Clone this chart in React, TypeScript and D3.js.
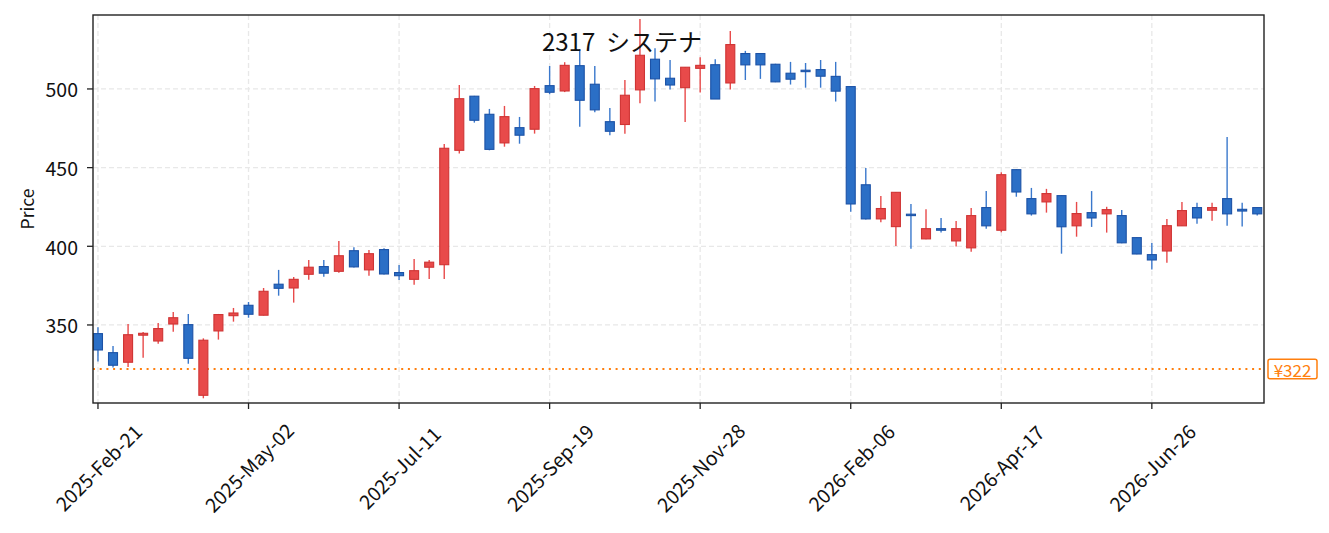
import React from 'react';
import * as d3 from 'd3';

// weekly bars, 2317 システナ
const dates = [
  '2025-02-21', '2025-02-28', '2025-03-07', '2025-03-14', '2025-03-21', '2025-03-28', '2025-04-04', '2025-04-11',
  '2025-04-18', '2025-04-25', '2025-05-02', '2025-05-09', '2025-05-16', '2025-05-23', '2025-05-30', '2025-06-06',
  '2025-06-13', '2025-06-20', '2025-06-27', '2025-07-04', '2025-07-11', '2025-07-18', '2025-07-25', '2025-08-01',
  '2025-08-08', '2025-08-15', '2025-08-22', '2025-08-29', '2025-09-05', '2025-09-12', '2025-09-19', '2025-09-26',
  '2025-10-03', '2025-10-10', '2025-10-17', '2025-10-24', '2025-10-31', '2025-11-07', '2025-11-14', '2025-11-21',
  '2025-11-28', '2025-12-05', '2025-12-12', '2025-12-19', '2025-12-26', '2026-01-02', '2026-01-09', '2026-01-16',
  '2026-01-23', '2026-01-30', '2026-02-06', '2026-02-13', '2026-02-20', '2026-02-27', '2026-03-06', '2026-03-13',
  '2026-03-20', '2026-03-27', '2026-04-03', '2026-04-10', '2026-04-17', '2026-04-24', '2026-05-01', '2026-05-08',
  '2026-05-15', '2026-05-22', '2026-05-29', '2026-06-05', '2026-06-12', '2026-06-19', '2026-06-26', '2026-07-03',
  '2026-07-10', '2026-07-17', '2026-07-24', '2026-07-31', '2026-08-07', '2026-08-14',
];

const opens = [
  344.5, 332.4, 326.3, 343.5, 339.8, 350.6, 350.2, 305.3, 346.2, 355.9, 362.5, 356.2, 375.9, 373.5, 382.2, 387.1,
  384.1, 397.2, 385.0, 397.9, 383.3, 379.0, 386.7, 388.3, 461.0, 495.4, 483.9, 465.7, 475.4, 474.4, 502.1, 498.7,
  514.8, 503.0, 479.2, 477.4, 499.4, 518.9, 506.8, 500.8, 513.1, 515.4, 503.8, 522.5, 522.5, 515.7, 510.0, 511.9,
  512.3, 508.0, 501.5, 439.1, 417.4, 412.5, 420.4, 404.7, 411.2, 403.4, 399.0, 424.6, 410.2, 448.7, 430.3, 428.2,
  432.2, 413.0, 421.4, 420.6, 419.5, 405.5, 394.7, 397.0, 413.0, 424.6, 422.9, 430.3, 423.5, 424.6,
];
const highs = [
  348.5, 336.7, 350.6, 345.5, 351.3, 358.3, 357.0, 341.5, 357.0, 360.8, 364.6, 373.5, 385.0, 380.5, 391.3, 391.3,
  403.4, 399.4, 397.7, 398.8, 388.1, 392.0, 391.3, 465.0, 502.5, 495.6, 487.3, 489.2, 482.2, 501.9, 514.6, 517.0,
  525.4, 514.6, 487.9, 505.7, 544.5, 525.9, 518.4, 514.0, 520.1, 518.9, 536.9, 524.2, 522.8, 516.0, 517.2, 516.5,
  518.4, 517.2, 501.5, 449.8, 432.0, 434.5, 426.9, 423.5, 418.0, 416.1, 424.4, 435.1, 447.0, 449.0, 437.1, 436.5,
  432.5, 428.2, 435.1, 425.1, 423.1, 405.6, 402.1, 417.4, 428.2, 427.6, 427.6, 469.5, 427.6, 424.6,
];
const lows = [
  326.7, 322.9, 323.3, 329.2, 338.1, 345.7, 325.4, 303.4, 340.7, 352.1, 354.6, 356.0, 368.6, 364.2, 378.8, 380.7,
  383.2, 386.5, 381.3, 382.0, 378.6, 375.6, 379.2, 379.2, 458.9, 478.6, 461.0, 463.3, 465.2, 471.6, 496.6, 498.0,
  476.0, 485.2, 470.6, 471.6, 490.9, 492.0, 499.6, 479.0, 497.7, 493.6, 499.6, 505.7, 506.4, 504.3, 502.8, 500.8,
  500.8, 492.0, 422.0, 417.0, 415.3, 400.2, 398.5, 404.5, 408.7, 399.8, 396.6, 411.2, 408.9, 431.5, 419.5, 421.4,
  395.3, 406.1, 412.3, 408.7, 402.0, 395.0, 385.2, 389.6, 413.0, 414.4, 416.3, 413.1, 412.5, 419.5,
];
const closes = [
  334.1, 324.4, 343.8, 344.7, 347.7, 354.6, 328.8, 340.3, 356.6, 357.6, 356.8, 371.4, 373.3, 379.0, 386.7, 382.9,
  394.0, 386.9, 395.3, 382.4, 381.3, 384.5, 389.9, 462.3, 493.8, 480.1, 461.6, 482.4, 470.6, 500.2, 497.9, 515.0,
  492.8, 486.7, 473.1, 496.0, 521.4, 506.4, 502.5, 513.8, 515.0, 493.6, 528.2, 515.3, 515.3, 504.5, 506.2, 511.0,
  508.1, 498.6, 426.9, 417.4, 424.0, 434.3, 419.5, 411.2, 410.2, 411.2, 419.5, 413.0, 445.5, 434.5, 420.6, 433.5,
  412.4, 420.8, 418.0, 423.3, 402.2, 395.1, 391.3, 413.1, 422.7, 418.0, 424.6, 420.6, 422.4, 420.6,
];

const tickDates = ['2025-02-21', '2025-05-02', '2025-07-11', '2025-09-19', '2025-11-28', '2026-02-06', '2026-04-17', '2026-06-26'];
const priceTicks = [350, 400, 450, 500];
const lastLow = 322;

const W = 1329;
const H = 533;
const plot = { left: 93, right: 1264, top: 15, bottom: 403 };
const font = '"Noto Sans CJK JP", "Noto Sans", sans-serif';

const upFill = '#e84a4a';
const upEdge = '#cf3434';
const downFill = '#2b6fc6';
const downEdge = '#1c52a6';
const orange = '#ff7f0e';

const App: React.FC = () => {
  const x = d3.scaleLinear().domain([-0.33, dates.length - 0.55]).range([plot.left, plot.right]);
  const y = d3.scaleLinear().domain([300.4, 547]).range([plot.bottom, plot.top]);
  const parse = d3.timeParse('%Y-%m-%d');
  const fmt = d3.timeFormat('%Y-%b-%d');
  const bodyW = 9;

  const candles = dates.map((d, i) => ({ d, i, o: opens[i], h: highs[i], l: lows[i], c: closes[i] }));

  return (
    <svg width={W} height={H} style={{ position: 'absolute', left: 0, top: 0, background: '#fff' }} fontFamily={font}>
      <rect x={0} y={0} width={W} height={H} fill="#fff" />
      <defs>
        <clipPath id="plotClip">
          <rect x={plot.left} y={plot.top} width={plot.right - plot.left} height={plot.bottom - plot.top} />
        </clipPath>
      </defs>

      {/* grid */}
      <g stroke="#e8e8e8" strokeWidth={1.3} strokeDasharray="5,3">
        {tickDates.map(t => {
          const px = x(dates.indexOf(t));
          return <line key={t} x1={px} x2={px} y1={plot.top} y2={plot.bottom} />;
        })}
        {priceTicks.map(v => (
          <line key={v} x1={plot.left} x2={plot.right} y1={y(v)} y2={y(v)} />
        ))}
      </g>

      {/* last-low marker line */}
      <line x1={plot.left} x2={plot.right} y1={y(lastLow)} y2={y(lastLow)} stroke={orange} strokeWidth={2} strokeDasharray="2,4.7" />

      {/* candles */}
      <g clipPath="url(#plotClip)">
        {candles.map(k => {
          const up = k.c >= k.o;
          const cx = x(k.i);
          const top = y(Math.max(k.o, k.c));
          const bot = y(Math.min(k.o, k.c));
          return (
            <g key={k.d}>
              <line x1={cx} x2={cx} y1={y(k.h)} y2={y(k.l)} stroke={up ? upFill : '#3a78cc'} strokeWidth={1.4} />
              <rect
                x={cx - bodyW / 2}
                y={top}
                width={bodyW}
                height={Math.max(bot - top, 1)}
                fill={up ? upFill : downFill}
                stroke={up ? upEdge : downEdge}
                strokeWidth={1.1}
              />
            </g>
          );
        })}
      </g>

      {/* frame */}
      <rect x={plot.left} y={plot.top} width={plot.right - plot.left} height={plot.bottom - plot.top} fill="none" stroke="#222" strokeWidth={1.4} />

      {/* y axis */}
      {priceTicks.map(v => (
        <g key={v}>
          <line x1={plot.left - 6} x2={plot.left} y1={y(v)} y2={y(v)} stroke="#222" strokeWidth={1.3} />
          <text x={plot.left - 15} y={y(v)} textAnchor="end" dominantBaseline="central" fontSize={19.5} fill="#111">
            {v}
          </text>
        </g>
      ))}
      <text transform={`translate(26,${(plot.top + plot.bottom) / 2}) rotate(-90)`} textAnchor="middle" dominantBaseline="central" fontSize={17.5} fill="#111">
        Price
      </text>

      {/* x axis */}
      {tickDates.map(t => {
        const px = x(dates.indexOf(t));
        return (
          <g key={t}>
            <line x1={px} x2={px} y1={plot.bottom} y2={plot.bottom + 6} stroke="#222" strokeWidth={1.3} />
            <text transform={`translate(${px},467) rotate(-45)`} textAnchor="middle" dominantBaseline="central" fontSize={19.5} fill="#111">
              {fmt(parse(t) as Date)}
            </text>
          </g>
        );
      })}

      {/* price tag */}
      <rect x={plot.right + 4} y={y(lastLow) - 9.8} width={49} height={19.6} rx={2} fill="#fff" stroke={orange} strokeWidth={1.5} />
      <text x={plot.right + 28.5} y={y(lastLow) + 0.5} textAnchor="middle" dominantBaseline="central" fontSize={17} fill={orange}>
        ¥{lastLow}
      </text>

      {/* title */}
      <text x={622} y={40} textAnchor="middle" dominantBaseline="central" fontSize={24} fill="#111" style={{ whiteSpace: 'pre' }}>
        {'2317  システナ'}
      </text>
    </svg>
  );
};

export default App;
